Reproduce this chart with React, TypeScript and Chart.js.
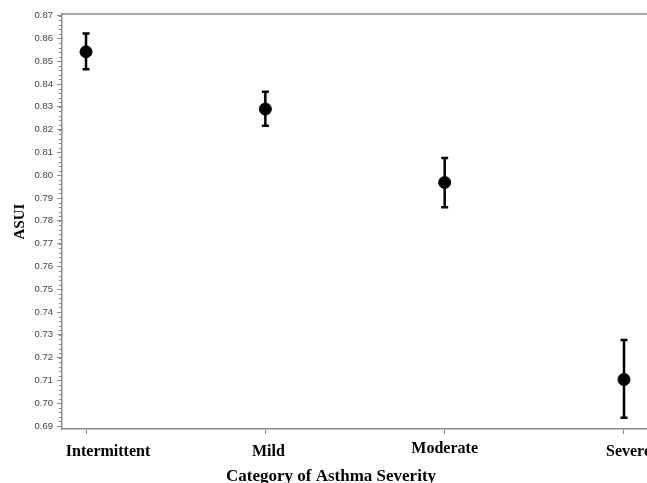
import React, { useEffect, useRef } from "react";
import { Chart, registerables } from "chart.js";

Chart.register(...registerables);

const categories = ["Intermittent", "Mild", "Moderate", "Severe"];
const meanValues = [0.8541, 0.829, 0.7968, 0.7104];
const lowerValues = [0.8465, 0.8217, 0.7859, 0.6936];
const upperValues = [0.8622, 0.8366, 0.8076, 0.7277];
const yMin = 0.6887;
const yMax = 0.8707;
const yStep = 0.01;
const yMinorStep = 0.002;
const xTitle = "Category of Asthma Severity";
const yTitle = "ASUI";

const AXIS_COLOR = "#8a8a8a";
const SERIF = "'Liberation Serif', 'Times New Roman', serif";
const labelDx = [22, 3, 0, 4.5];
const labelDy = [0, 0, -3, 0];

const extrasPlugin = {
  id: "extras",
  afterDraw(chart: any) {
    const ctx = chart.ctx;
    const area = chart.chartArea;
    const xs = chart.scales.x;
    const ys = chart.scales.y;
    ctx.save();
    // top border
    ctx.strokeStyle = AXIS_COLOR;
    ctx.lineWidth = 1.5;
    ctx.beginPath();
    ctx.moveTo(area.left, area.top);
    ctx.lineTo(area.right, area.top);
    ctx.stroke();
    // minor ticks
    ctx.lineWidth = 1;
    const n = Math.round((0.87 - 0.69) / yMinorStep);
    for (let i = 0; i <= n; i++) {
      const v = 0.69 + i * yMinorStep;
      const py = Math.round(ys.getPixelForValue(v)) + 0.5;
      ctx.beginPath();
      ctx.moveTo(area.left - 3, py);
      ctx.lineTo(area.left, py);
      ctx.stroke();
    }
    // error bars
    ctx.strokeStyle = "#000";
    ctx.lineWidth = 2.5;
    for (let i = 0; i < categories.length; i++) {
      const px = xs.getPixelForValue(i);
      const pLo = ys.getPixelForValue(lowerValues[i]);
      const pHi = ys.getPixelForValue(upperValues[i]);
      ctx.beginPath();
      ctx.moveTo(px, pLo);
      ctx.lineTo(px, pHi);
      ctx.moveTo(px - 3.5, pLo);
      ctx.lineTo(px + 3.5, pLo);
      ctx.moveTo(px - 3.5, pHi);
      ctx.lineTo(px + 3.5, pHi);
      ctx.stroke();
    }
    // category labels
    ctx.fillStyle = "#000";
    ctx.font = `bold 16px ${SERIF}`;
    ctx.textAlign = "center";
    ctx.textBaseline = "alphabetic";
    for (let i = 0; i < categories.length; i++) {
      const px = xs.getPixelForValue(i);
      ctx.fillText(categories[i], px + labelDx[i], area.bottom + 27 + labelDy[i]);
    }
    // x title
    ctx.font = `bold 17px ${SERIF}`;
    ctx.fillText(xTitle, 331, area.bottom + 52);
    // y title
    ctx.font = `bold 15px ${SERIF}`;
    ctx.translate(20, (area.top + area.bottom) / 2);
    ctx.rotate(-Math.PI / 2);
    ctx.textBaseline = "middle";
    ctx.fillText(yTitle, 0, 0);
    ctx.restore();
  },
};

export default function App() {
  const ref = useRef<HTMLCanvasElement | null>(null);
  useEffect(() => {
    document.body.style.margin = "0";
    const chart = new Chart(ref.current as HTMLCanvasElement, {
      type: "scatter",
      data: {
        datasets: [
          {
            data: meanValues.map((v, i) => ({ x: i, y: v })),
            backgroundColor: "#000",
            borderColor: "#000",
            pointRadius: 6,
            pointHoverRadius: 6,
          },
        ],
      },
      options: {
        responsive: false,
        animation: false,
        events: [],
        layout: { padding: { top: 14, right: 30, left: 0, bottom: 0 } },
        plugins: { legend: { display: false }, tooltip: { enabled: false } },
        scales: {
          x: {
            type: "linear",
            min: -0.134,
            max: 3.145,
            afterBuildTicks: (s: any) => {
              s.ticks = categories.map((_, i) => ({ value: i }));
            },
            afterFit: (s: any) => {
              s.height = 54;
            },
            ticks: {
              display: false,
            },
            grid: {
              drawOnChartArea: false,
              tickLength: 5,
              color: AXIS_COLOR,
            },
            border: { color: AXIS_COLOR, width: 1.5 },
          },
          y: {
            type: "linear",
            min: yMin,
            max: yMax,
            afterFit: (s: any) => {
              s.width = 62;
            },
            ticks: {
              stepSize: yStep,
              includeBounds: false,
              callback: (v: any) => Number(v).toFixed(2),
              color: "#444",
              font: { family: "'Liberation Sans', Arial, sans-serif", size: 9.5 },
              padding: 4,
            },
            grid: {
              drawOnChartArea: false,
              tickLength: 5,
              color: AXIS_COLOR,
            },
            border: { color: AXIS_COLOR, width: 1.5 },
          },
        },
      },
      plugins: [extrasPlugin],
    } as any);
    return () => chart.destroy();
  }, []);
  return (
    <div style={{ width: 647, height: 483, overflow: "hidden", position: "relative" }}>
      <canvas ref={ref} width={680} height={483} style={{ display: "block" }} />
    </div>
  );
}
